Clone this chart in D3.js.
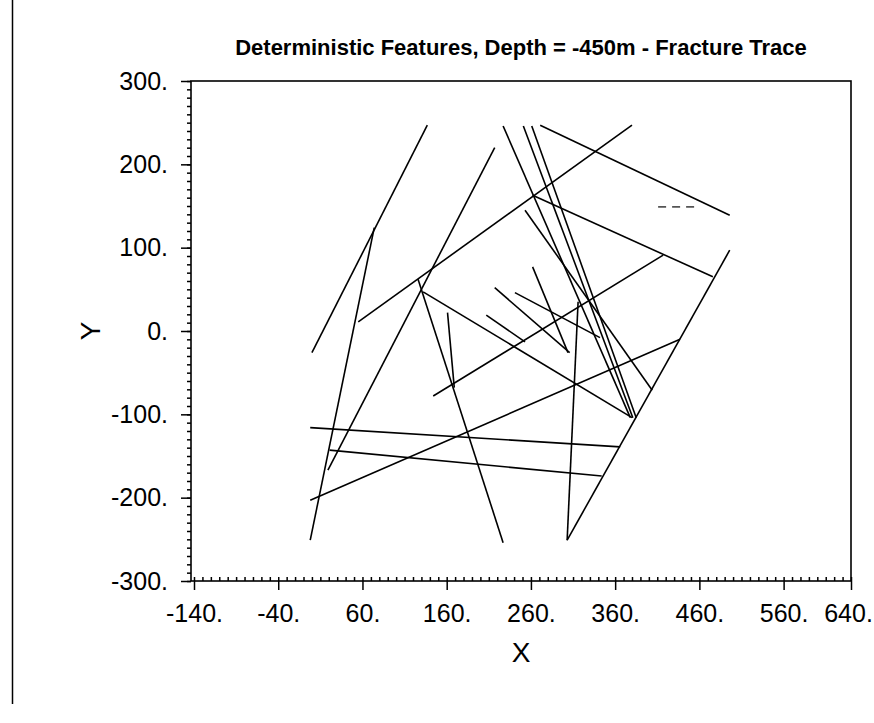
<!DOCTYPE html>
<html>
<head>
<meta charset="utf-8">
<script src="https://cdn.jsdelivr.net/npm/d3@7/dist/d3.min.js"></script>
<style>
    body { margin: 0; background: #fff; }
    svg { display: block; }
</style>
</head>
<body>
<svg id="chart"></svg>
<script>
// FRACTURE TRACES, one column per segment: start (x1,y1) -> end (x2,y2)
var traceX1 = [ 0, -2, 55, 217, -2, 21, -2, 303, 316, 126, 132, 161, 144, 262, 271, 262, 227, 251, 261, 253, 217, 241, 207 ];
var traceY1 = [ -26, -251, 11, 220, -116, -143, -203, -251, 35, 62, 47, 22, -78, 163, 247, 77, 246, 246, 246, 145, 52, 46, 19 ];
var traceX2 = [ 137, 74, 380, 19, 366, 344, 437, 496, 303, 227, 380, 169, 417, 476, 496, 304, 378, 381, 385, 404, 306, 342, 253 ];
var traceY2 = [ 247, 124, 247, -167, -139, -174, -10, 97, -251, -254, -104, -68, 91, 65, 139, -26, -104, -104, -104, -71, -26, -8, -13 ];

// the single grey dashed trace on the right
var dashX1 = [ 411 ];
var dashY1 = [ 149 ];
var dashX2 = [ 457 ];
var dashY2 = [ 149 ];

var xTicks = [ -140, -40, 60, 160, 260, 360, 460, 560, 640 ];
var yTicks = [ -300, -200, -100, 0, 100, 200, 300 ];
var xDomain = [ -140, 640 ];
var yDomain = [ -300, 300 ];

var titleText = "Deterministic Features, Depth = -450m - Fracture Trace";

var width = 874;
var height = 723;
var font = "'Liberation Sans', Arial, sans-serif";

var svg = d3.select( "#chart" )
    .attr( "width", width )
    .attr( "height", height );

svg.append( "rect" )
    .attr( "width", width )
    .attr( "height", height )
    .attr( "fill", "#fff" );

// page edge line at the far left
svg.append( "line" )
    .attr( "x1", 12.5 ).attr( "x2", 12.5 )
    .attr( "y1", 0 ).attr( "y2", 704 )
    .attr( "stroke", "#000" )
    .attr( "stroke-width", 1.5 );

var x = d3.scaleLinear().domain( xDomain ).range( [ 194, 851 ] );
var y = d3.scaleLinear().domain( yDomain ).range( [ 581, 81 ] );
var frameLeft = x( xDomain[ 0 ] ) - 3;

// PLOT FRAME
svg.append( "rect" )
    .attr( "x", frameLeft )
    .attr( "y", y( yDomain[ 1 ] ) )
    .attr( "width", x( xDomain[ 1 ] ) - frameLeft )
    .attr( "height", y( yDomain[ 0 ] ) - y( yDomain[ 1 ] ) )
    .attr( "fill", "none" )
    .attr( "stroke", "#000" )
    .attr( "stroke-width", 1.6 );

// minor ticks every 10 units
var xMinor = d3.axisBottom( x )
    .tickValues( d3.range( -140, 641, 10 ) )
    .tickSizeInner( -4 )
    .tickSizeOuter( 0 )
    .tickFormat( "" );

svg.append( "g" )
    .attr( "transform", "translate(0," + y( yDomain[ 0 ] ) + ")" )
    .call( xMinor )
    .call( g => g.select( ".domain" ).remove() );

var yMinor = d3.axisLeft( y )
    .tickValues( d3.range( -300, 301, 10 ) )
    .tickSizeInner( 4 )
    .tickSizeOuter( 0 )
    .tickFormat( "" );

svg.append( "g" )
    .attr( "transform", "translate(" + frameLeft + ",0)" )
    .call( yMinor )
    .call( g => g.select( ".domain" ).remove() );

// MAJOR AXES
var xAxis = d3.axisBottom( x )
    .tickValues( xTicks )
    .tickSizeInner( 9 )
    .tickSizeOuter( 0 )
    .tickPadding( 14 )
    .tickFormat( d => d + "." );

var xAxisG = svg.append( "g" )
    .attr( "class", "x-axis" )
    .attr( "transform", "translate(0," + y( yDomain[ 0 ] ) + ")" )
    .call( xAxis );

var yAxis = d3.axisLeft( y )
    .tickValues( yTicks )
    .tickSizeInner( 10 )
    .tickSizeOuter( 0 )
    .tickPadding( 13 )
    .tickFormat( d => d + "." );

svg.append( "g" )
    .attr( "class", "y-axis" )
    .attr( "transform", "translate(" + frameLeft + ",0)" )
    .call( yAxis );

svg.selectAll( ".x-axis .domain, .y-axis .domain" ).remove();
svg.selectAll( ".tick line" )
    .attr( "stroke", "#000" )
    .attr( "stroke-width", 1.5 );
svg.selectAll( ".x-axis text, .y-axis text" )
    .attr( "font-family", font )
    .attr( "font-size", 25 )
    .attr( "fill", "#000" );

// last label sits against the window edge, pull it in a little
xAxisG.selectAll( ".tick text" )
    .filter( d => d === xDomain[ 1 ] )
    .attr( "x", -3 );

// FRACTURE TRACES
svg.append( "g" )
    .selectAll( "line" )
    .data( d3.range( traceX1.length ) )
    .enter()
    .append( "line" )
    .attr( "x1", i => x( traceX1[ i ] ) )
    .attr( "y1", i => y( traceY1[ i ] ) )
    .attr( "x2", i => x( traceX2[ i ] ) )
    .attr( "y2", i => y( traceY2[ i ] ) )
    .attr( "stroke", "#000" )
    .attr( "stroke-width", 1.6 );

svg.append( "g" )
    .selectAll( "line" )
    .data( d3.range( dashX1.length ) )
    .enter()
    .append( "line" )
    .attr( "x1", i => x( dashX1[ i ] ) )
    .attr( "y1", i => y( dashY1[ i ] ) )
    .attr( "x2", i => x( dashX2[ i ] ) )
    .attr( "y2", i => y( dashY2[ i ] ) )
    .attr( "stroke", "#555" )
    .attr( "stroke-width", 1.6 )
    .attr( "stroke-dasharray", "8,6" );

// TITLES
svg.append( "text" )
    .attr( "x", ( frameLeft + x( xDomain[ 1 ] ) ) / 2 )
    .attr( "y", 55 )
    .attr( "text-anchor", "middle" )
    .attr( "font-family", font )
    .attr( "font-weight", "bold" )
    .attr( "font-size", 22 )
    .text( titleText );

svg.append( "text" )
    .attr( "x", ( frameLeft + x( xDomain[ 1 ] ) ) / 2 )
    .attr( "y", 662 )
    .attr( "text-anchor", "middle" )
    .attr( "font-family", font )
    .attr( "font-size", 28 )
    .text( "X" );

svg.append( "text" )
    .attr( "transform", "translate(100," + y( 0 ) + ") rotate(-90)" )
    .attr( "text-anchor", "middle" )
    .attr( "font-family", font )
    .attr( "font-size", 28 )
    .text( "Y" );
</script>
</body>
</html>
